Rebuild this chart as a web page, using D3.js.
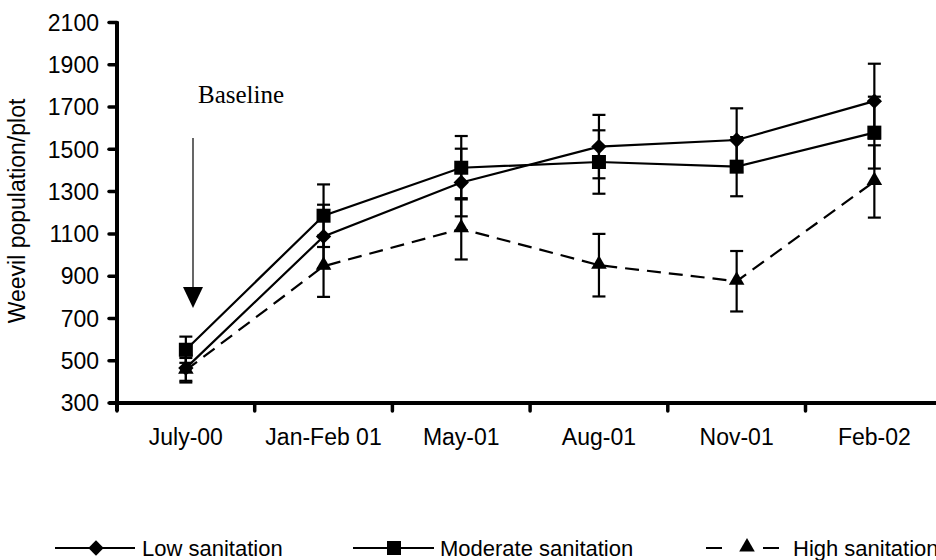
<!DOCTYPE html>
<html>
<head>
<meta charset="utf-8">
<script src="https://cdn.jsdelivr.net/npm/d3@7"></script>
<style>
  body { margin: 0; background: #fff; }
  svg { display: block; }
  text { font-family: Arial, "Liberation Sans", sans-serif; fill: #000; }
</style>
</head>
<body>
<svg id="chart" width="936" height="560"></svg>
<script>
var categories = ["July-00", "Jan-Feb 01", "May-01", "Aug-01", "Nov-01", "Feb-02"];
var lowValues = [465, 1088, 1343, 1513, 1544, 1728];
var lowErrors = [60, 150, 160, 150, 150, 177];
var moderateValues = [552, 1186, 1413, 1440, 1418, 1579];
var moderateErrors = [62, 148, 150, 150, 140, 170];
var highValues = [455, 947, 1124, 952, 876, 1348];
var highErrors = [58, 145, 145, 148, 143, 171];
var yTicks = [300, 500, 700, 900, 1100, 1300, 1500, 1700, 1900, 2100];
var seriesNames = ["Low sanitation", "Moderate sanitation", "High sanitation"];

var svg = d3.select("#chart");
var width = 936;
var height = 560;

var axisX = 117;
var axisY = 403;

var x = d3.scaleBand()
  .domain(categories)
  .range([axisX, axisX + 6 * 137.7])
  .padding(0);

var y = d3.scaleLinear()
  .domain([300, 2100])
  .range([axisY, 22.5]);

function cx(d, i) { return x(categories[i]) + x.bandwidth() / 2; }

var series = [
  { name: seriesNames[0], values: lowValues, errors: lowErrors, symbol: "diamond", dash: null },
  { name: seriesNames[1], values: moderateValues, errors: moderateErrors, symbol: "square", dash: null },
  { name: seriesNames[2], values: highValues, errors: highErrors, symbol: "triangle", dash: "14,8" }
];

function markerPath(kind) {
  if (kind == "diamond") return d3.symbol().type(d3.symbolSquare).size(118)();
  if (kind == "square") return d3.symbol().type(d3.symbolSquare).size(196)();
  return d3.symbol().type(d3.symbolTriangle).size(105)();
}

// y axis
var yAxis = svg.append("g");

yAxis.selectAll(".ytick")
  .data(yTicks)
  .enter()
  .append("line")
    .attr("class", "ytick")
    .attr("x1", axisX - 8).attr("x2", axisX)
    .attr("y1", function(d) { return y(d); })
    .attr("y2", function(d) { return y(d); })
    .attr("stroke", "#000")
    .attr("stroke-width", 3.5)
    .attr("stroke-linecap", "round");

yAxis.selectAll(".ylabel")
  .data(yTicks)
  .enter()
  .append("text")
    .attr("class", "ylabel")
    .attr("x", 99)
    .attr("y", function(d) { return y(d); })
    .attr("dy", "0.36em")
    .attr("text-anchor", "end")
    .style("font-size", "23px")
    .text(function(d) { return d; });

yAxis.append("line")
  .attr("x1", axisX).attr("x2", axisX)
  .attr("y1", y(2100) - 1).attr("y2", axisY + 8)
  .attr("stroke", "#000")
  .attr("stroke-width", 4);

svg.append("text")
  .attr("transform", "translate(25,211) rotate(-90)")
  .attr("text-anchor", "middle")
  .style("font-size", "23px")
  .text("Weevil population/plot");

// x axis
var xAxis = svg.append("g");

xAxis.selectAll(".xtick")
  .data(categories.concat(["end"]))
  .enter()
  .append("line")
    .attr("class", "xtick")
    .attr("x1", function(d, i) { return axisX + i * x.bandwidth(); })
    .attr("x2", function(d, i) { return axisX + i * x.bandwidth(); })
    .attr("y1", axisY).attr("y2", axisY + 8)
    .attr("stroke", "#000")
    .attr("stroke-width", 3.5)
    .attr("stroke-linecap", "round");

xAxis.append("line")
  .attr("x1", axisX - 8).attr("x2", width + 10)
  .attr("y1", axisY).attr("y2", axisY)
  .attr("stroke", "#000")
  .attr("stroke-width", 4);

xAxis.selectAll(".xlabel")
  .data(categories)
  .enter()
  .append("text")
    .attr("class", "xlabel")
    .attr("x", function(d) { return x(d) + x.bandwidth() / 2; })
    .attr("y", 445)
    .attr("text-anchor", "middle")
    .style("font-size", "23px")
    .text(function(d) { return d; });

// lines
var line = d3.line()
  .x(function(d, i) { return cx(d, i); })
  .y(function(d) { return y(d); });

series.forEach(function(s) {
  svg.append("path")
    .attr("d", line(s.values))
    .attr("fill", "none")
    .attr("stroke", "#000")
    .attr("stroke-width", 2.2)
    .attr("stroke-dasharray", s.dash);
});

// error bars
series.forEach(function(s) {
  var g = svg.append("g");
  var bars = g.selectAll("g")
    .data(s.values)
    .enter()
    .append("g");

  bars.append("line")
    .attr("x1", cx).attr("x2", cx)
    .attr("y1", function(d, i) { return y(d + s.errors[i]); })
    .attr("y2", function(d, i) { return y(d - s.errors[i]); })
    .attr("stroke", "#000")
    .attr("stroke-width", 2.2);

  [1, -1].forEach(function(sign) {
    bars.append("line")
      .attr("x1", function(d, i) { return cx(d, i) - 6.5; })
      .attr("x2", function(d, i) { return cx(d, i) + 6.5; })
      .attr("y1", function(d, i) { return y(d + sign * s.errors[i]); })
      .attr("y2", function(d, i) { return y(d + sign * s.errors[i]); })
      .attr("stroke", "#000")
      .attr("stroke-width", 2.2);
  });
});

// markers
series.forEach(function(s) {
  svg.append("g").selectAll("path")
    .data(s.values)
    .enter()
    .append("path")
      .attr("d", markerPath(s.symbol))
      .attr("transform", function(d, i) {
        var t = "translate(" + cx(d, i) + "," + y(d) + ")";
        if (s.symbol == "diamond") t += " rotate(45)";
        if (s.symbol == "triangle") t += " translate(0,-1)";
        return t;
      })
      .attr("fill", "#000");
});

// baseline annotation
svg.append("text")
  .attr("x", 198).attr("y", 103)
  .style("font-family", "'Times New Roman', 'Liberation Serif', serif")
  .style("font-size", "25px")
  .text("Baseline");

svg.append("line")
  .attr("x1", 193).attr("x2", 193)
  .attr("y1", 138).attr("y2", 290)
  .attr("stroke", "#000")
  .attr("stroke-width", 1.2);

svg.append("path")
  .attr("d", "M183,287 L203,287 L193,308 Z")
  .attr("fill", "#000");

// legend
var legendItems = [
  { name: seriesNames[0], symbol: "diamond", x1: 55, x2: 135, mx: 96, tx: 142, dash: null },
  { name: seriesNames[1], symbol: "square", x1: 353, x2: 434, mx: 394, tx: 440, dash: null },
  { name: seriesNames[2], symbol: "triangle", x1: 706, x2: 781, mx: 747, tx: 793, dash: "16,41" }
];

var legendY = 548;

var legend = svg.selectAll(".legend")
  .data(legendItems)
  .enter()
  .append("g")
    .attr("class", "legend");

legend.append("line")
  .attr("x1", function(d) { return d.x1; })
  .attr("x2", function(d) { return d.x2; })
  .attr("y1", legendY).attr("y2", legendY)
  .attr("stroke", "#000")
  .attr("stroke-width", 2.2)
  .attr("stroke-dasharray", function(d) { return d.dash; });

legend.append("path")
  .attr("d", function(d) { return markerPath(d.symbol); })
  .attr("transform", function(d) {
    var t = "translate(" + d.mx + "," + legendY + ")";
    if (d.symbol == "diamond") t += " rotate(45)";
    if (d.symbol == "triangle") t += " translate(0,-1)";
    return t;
  })
  .attr("fill", "#000");

legend.append("text")
  .attr("x", function(d) { return d.tx; })
  .attr("y", 556)
  .style("font-size", "22px")
  .text(function(d) { return d.name; });
</script>
</body>
</html>
